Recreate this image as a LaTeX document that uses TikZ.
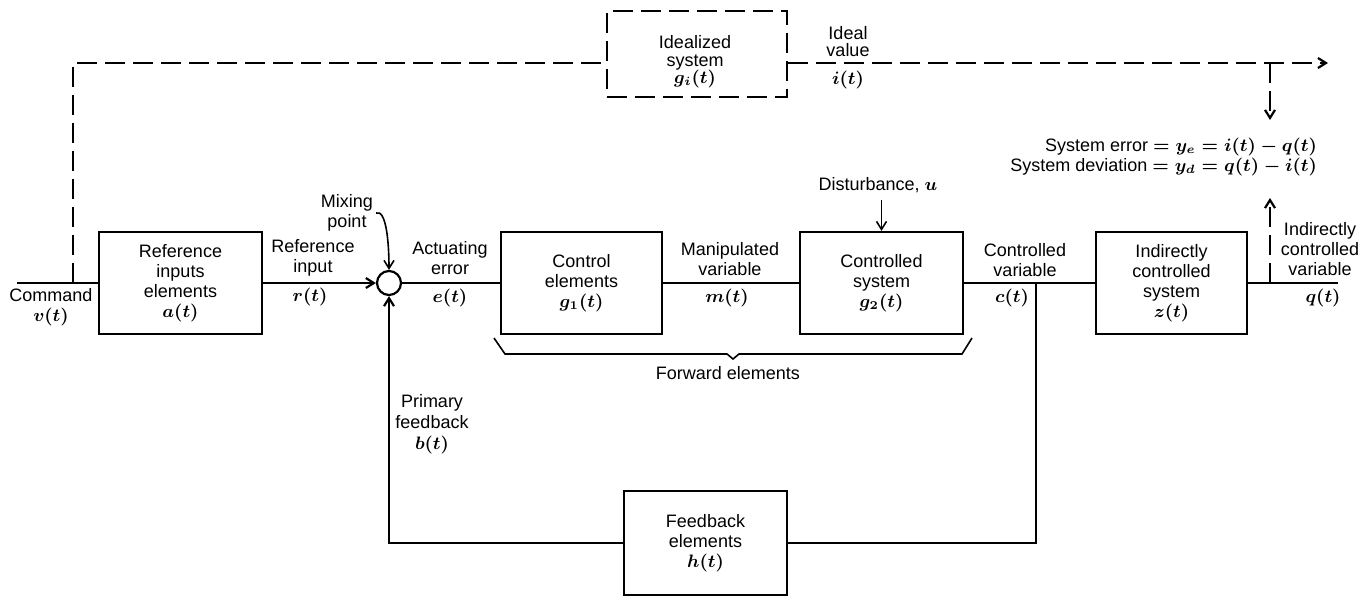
\documentclass[tikz,border=0pt]{standalone}
\usepackage{fontspec}
\setmainfont{Liberation Sans}
\usetikzlibrary{arrows.meta}
\begin{document}
\begin{tikzpicture}[x=0.5pt,y=-0.5pt,
  line width=1.1pt,
  >={Straight Barb[length=4pt,width=5pt]},
  every node/.style={font=\fontsize{9}{10}\selectfont\boldmath, inner sep=0pt, align=center},
  blk/.style={draw, line width=1.1pt, minimum width=#1, minimum height=51pt},
  dsh/.style={dash pattern=on 10pt off 4pt},
  thinline/.style={line width=0.8pt}]
\useasboundingbox (0,0) rectangle (1366,600);

% blocks
\node[blk=81.5pt] (ref) at (180.5,283) {Reference\\inputs\\elements\\$a(t)$};
\node[blk=80.5pt] (ctrl) at (581.5,283) {Control\\elements\\$g_1(t)$};
\node[blk=81.5pt] (plant) at (881.5,283) {Controlled\\system\\$g_2(t)$};
\node[blk=75.5pt] (ind) at (1171.5,283) {Indirectly\\controlled\\system\\$z(t)$};
\node[blk=81.5pt, minimum height=52pt] (fb) at (705.5,543) {Feedback\\elements\\$h(t)$};
\node[blk=90pt, minimum height=43pt, dsh] (ideal) at (697,54) {};
\node[font=\fontsize{9}{8.8}\selectfont\boldmath] (idealtxt) at (695,62) {Idealized\\system\\$g_i(t)$};
\node[circle, draw, minimum size=12pt] (mix) at (389,283) {};

% junctions and free ends
\coordinate (cmdin) at (17,283);
\coordinate (split) at (73,283);
\coordinate (topl) at (73,63);
\coordinate (topr) at (1328,63);
\coordinate (errtap) at (1270,63);
\coordinate (errdn) at (1270,120);
\coordinate (qtap) at (1270,283);
\coordinate (qup) at (1270,198);
\coordinate (out) at (1338,283);
\coordinate (ctap) at (1036,283);
\coordinate (cfb) at (1036,543);
\coordinate (bfb) at (389,543);

% forward path
\draw (cmdin) -- (ref.west);
\draw[->] (ref.east) -- (mix.west);
\draw (mix.east) -- (ctrl.west);
\draw (ctrl.east) -- (plant.west);
\draw (plant.east) -- (ind.west);
\draw (ind.east) -- (out);

% feedback path
\draw (ctap) -- (cfb) -- (fb.east);
\draw[->] (fb.west) -- (bfb) -- (mix.south);

% idealized path
\draw[dsh] (split) -- (topl) -- (topl -| ideal.west);
\draw[dsh,->] (topr -| ideal.east) -- (topr);
\draw[dsh,->] (errtap) -- (errdn);
\draw[dsh,->] (qtap) -- (qup);

% labels
\node (cmdlbl) at (51,307) {Command\\$v(t)$};
\node (rlbl) at (313,258) {Reference\\input};
\node (rsig) at (310,297) {$r(t)$};
\node (elbl) at (450,258) {Actuating\\error};
\node (esig) at (450,298) {$e(t)$};
\node (mlbl) at (730,259) {Manipulated\\variable};
\node (msig) at (727,298) {$m(t)$};
\node (clbl) at (1025,260) {Controlled\\variable};
\node (csig) at (1012,298) {$c(t)$};
\node (qlbl) at (1320,249) {Indirectly\\controlled\\variable};
\node (qsig) at (1323,298) {$q(t)$};
\node (mixlbl) at (347,213) {Mixing\\point};
\node[font=\fontsize{9}{8.5}\selectfont\boldmath] (ilbl) at (848,42) {Ideal\\value};
\node (isig) at (848,80) {$i(t)$};
\node[font=\fontsize{9}{10.5}\selectfont\boldmath] (blbl) at (432,424) {Primary\\feedback\\$b(t)$};
\node (fwd) at (728,373) {Forward elements};
\node (dist) at (878,185) {Disturbance, $u$};
\node[anchor=east, align=right] (eqs) at (1318,157)
  {System error $= y_e = i(t) - q(t)$\\System deviation $= y_d = q(t) - i(t)$};

% thin pointers
\draw[thinline,->] (dist.south -| plant.north) ++(0,6) -- (plant.north);
\draw[thinline,->] ([xshift=1pt]mixlbl.east) .. controls +(10,-4) and +(0,-28) .. (mix.north);

% brace under the forward elements
\draw[thinline] (494,338) -- (505,354) -- (727,354) -- (733,359) -- (739,354) -- (962,354) -- (972,338);
\end{tikzpicture}
\end{document}
